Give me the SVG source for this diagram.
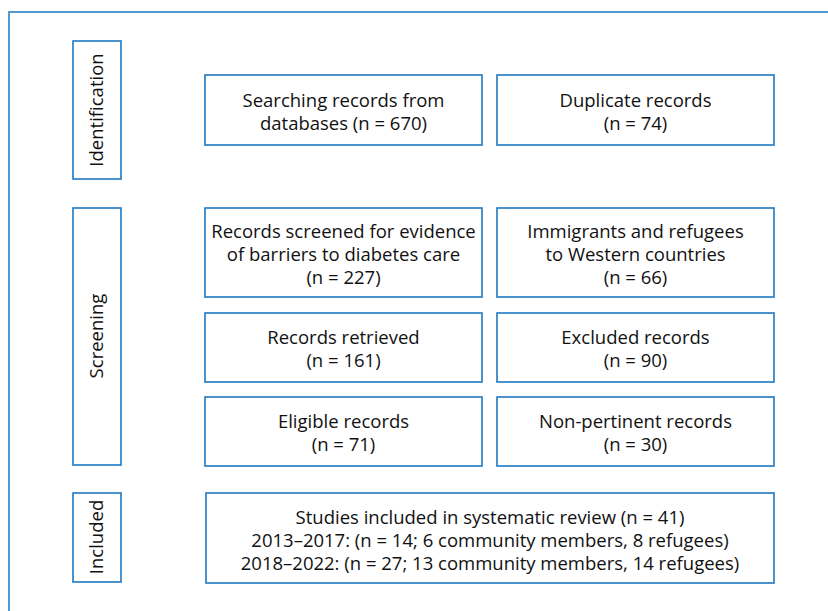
<svg xmlns="http://www.w3.org/2000/svg" width="828" height="611" viewBox="0 0 828 611">
<style>
.frame{fill:none;stroke:#5199d3;stroke-width:2}
.box{fill:#fff;stroke:#1e78c2;stroke-width:1.6}
text{font-family:"Open Sans","Noto Sans","Liberation Sans",sans-serif;font-size:18.5px;fill:#111;text-anchor:middle}
</style>
<rect width="828" height="611" fill="#fff"/>
<path class="frame" d="M9,620 V12 H840"/>
<g id="identification">
<rect class="box" x="73" y="41" width="48" height="138"/>
<text transform="translate(103,110) rotate(-90)">Identification</text>
</g>
<g id="screening">
<rect class="box" x="73" y="208" width="48" height="257"/>
<text transform="translate(103,336) rotate(-90)">Screening</text>
</g>
<g id="included">
<rect class="box" x="73" y="493" width="48" height="89"/>
<text transform="translate(103,537) rotate(-90)">Included</text>
</g>
<g id="searching">
<rect class="box" x="205" y="75" width="277" height="70"/>
<text x="343.5" y="107">Searching records from</text>
<text x="343.5" y="130">databases (n = 670)</text>
</g>
<g id="duplicate">
<rect class="box" x="497" y="75" width="277" height="70"/>
<text x="635.5" y="107">Duplicate records</text>
<text x="635.5" y="130">(n = 74)</text>
</g>
<g id="screened">
<rect class="box" x="205" y="208" width="277" height="89"/>
<text x="343.5" y="238">Records screened for evidence</text>
<text x="343.5" y="261">of barriers to diabetes care</text>
<text x="343.5" y="284">(n = 227)</text>
</g>
<g id="immigrants">
<rect class="box" x="497" y="208" width="277" height="89"/>
<text x="635.5" y="238">Immigrants and refugees</text>
<text x="635.5" y="261">to Western countries</text>
<text x="635.5" y="284">(n = 66)</text>
</g>
<g id="retrieved">
<rect class="box" x="205" y="313" width="277" height="69"/>
<text x="343.5" y="344">Records retrieved</text>
<text x="343.5" y="367">(n = 161)</text>
</g>
<g id="excluded">
<rect class="box" x="497" y="313" width="277" height="69"/>
<text x="635.5" y="344">Excluded records</text>
<text x="635.5" y="367">(n = 90)</text>
</g>
<g id="eligible">
<rect class="box" x="205" y="397" width="277" height="69"/>
<text x="343.5" y="428">Eligible records</text>
<text x="343.5" y="451">(n = 71)</text>
</g>
<g id="nonpertinent">
<rect class="box" x="497" y="397" width="277" height="69"/>
<text x="635.5" y="428">Non-pertinent records</text>
<text x="635.5" y="451">(n = 30)</text>
</g>
<g id="studies">
<rect class="box" x="206" y="493" width="568" height="90"/>
<text x="490" y="524">Studies included in systematic review (n = 41)</text>
<text x="490" y="547">2013–2017: (n = 14; 6 community members, 8 refugees)</text>
<text x="490" y="570">2018–2022: (n = 27; 13 community members, 14 refugees)</text>
</g>
<g id="connectors"></g>
</svg>
